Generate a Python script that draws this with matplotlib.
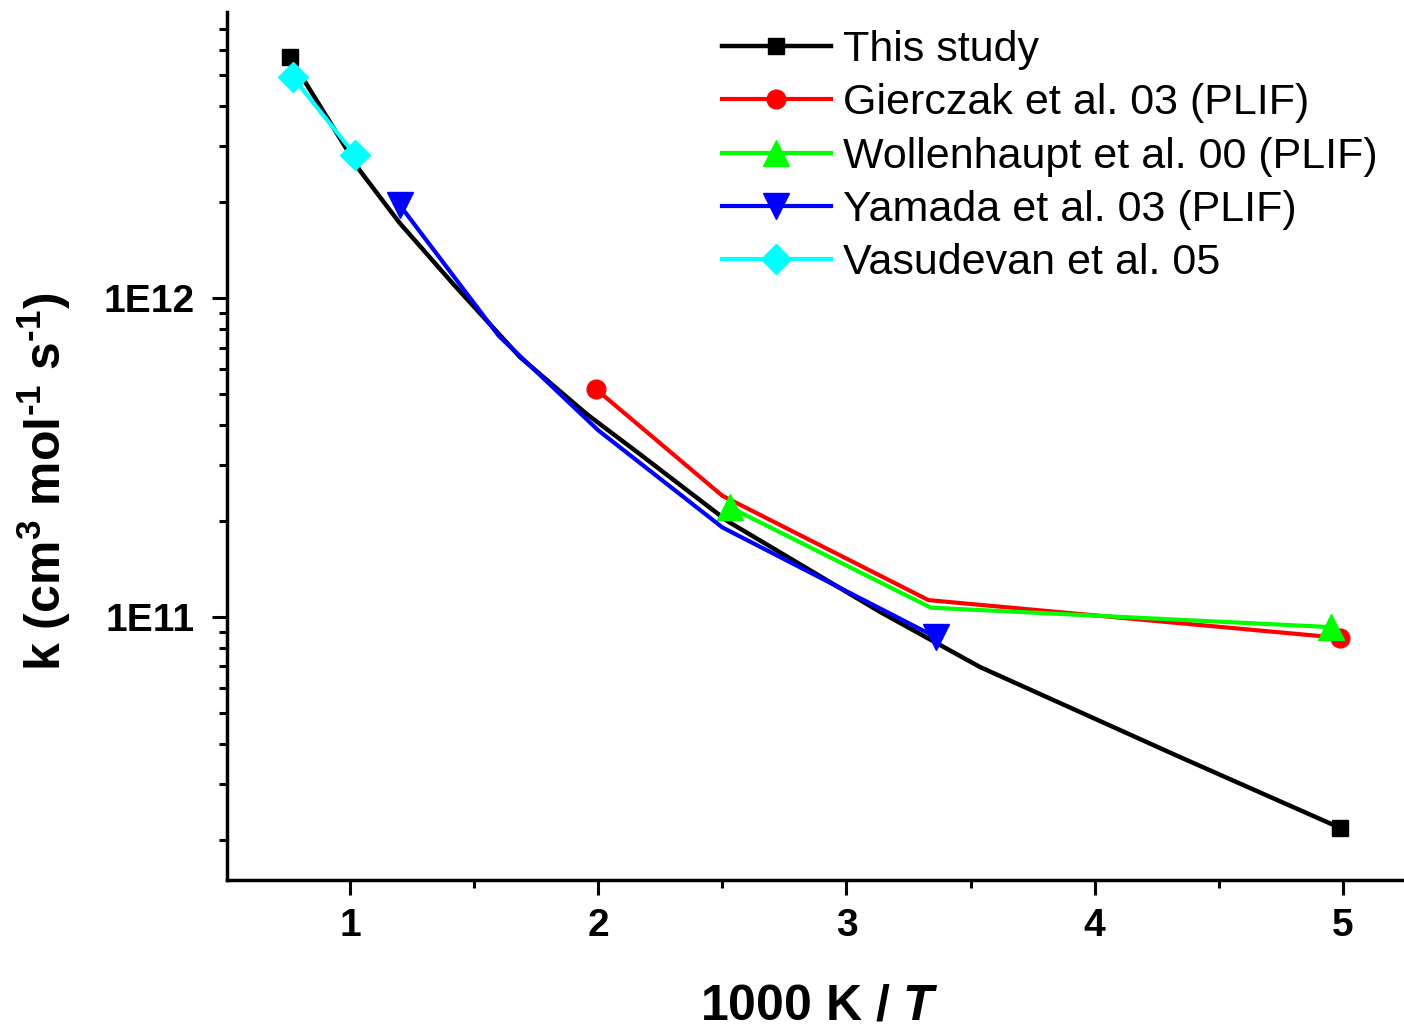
import numpy as np
import matplotlib
matplotlib.use('Agg')
import matplotlib.pyplot as plt
from matplotlib.ticker import LogLocator, FuncFormatter, MultipleLocator, NullFormatter

plt.rcParams['font.family'] = ['Liberation Sans', 'DejaVu Sans']
plt.rcParams['font.weight'] = 'bold'
plt.rcParams['mathtext.fontset'] = 'custom'
plt.rcParams['mathtext.rm'] = 'Liberation Sans:bold'
plt.rcParams['mathtext.it'] = 'Liberation Sans:italic:bold'
plt.rcParams['mathtext.bf'] = 'Liberation Sans:bold'

# This study (line with markers only at both ends)
x_this = [0.758, 1.04, 1.2, 1.415, 1.685, 1.955, 2.168, 2.52, 3.135, 3.538, 4.343, 4.99]
k_this = [5.69e12, 2.51e12, 1.72e12, 1.109e12, 6.53e11, 4.32e11, 3.24e11, 2.0e11,
          1.038e11, 6.97e10, 3.64e10, 2.18e10]

# Gierczak et al. 03 (PLIF)
x_gier = [1.99, 2.5, 3.33, 4.99]
k_gier = [5.19e11, 2.4e11, 1.13e11, 8.6e10]

# Wollenhaupt et al. 00 (PLIF)
x_woll = [2.53, 3.34, 4.95]
k_woll = [2.21e11, 1.07e11, 9.3e10]

# Yamada et al. 03 (PLIF)
x_yama = [1.2, 1.6, 2.0, 2.5, 3.36]
k_yama = [1.96e12, 7.6e11, 3.85e11, 1.91e11, 8.65e10]

# Vasudevan et al. 05
x_vasu = [0.77, 1.02]
k_vasu = [4.93e12, 2.81e12]

fig = plt.figure(figsize=(14.04, 10.27), dpi=100)
ax = fig.add_axes([227/1404, 1-880/1027, (1404-227)/1404, (880-12)/1027])

lw = 3.0
ax.plot(x_this, k_this, color='black', lw=3.2, marker='s', ms=12, markevery=[0, len(x_this)-1],
        label='This study')
ax.plot(x_gier, k_gier, color='#ff0000', lw=lw, marker='o', ms=13.5, markevery=[0, len(x_gier)-1],
        label='Gierczak et al. 03 (PLIF)')
ax.plot(x_woll, k_woll, color='#00ff00', lw=lw, marker='^', ms=19, markevery=[0, len(x_woll)-1],
        label='Wollenhaupt et al. 00 (PLIF)')
ax.plot(x_yama, k_yama, color='#0000ff', lw=lw, marker='v', ms=19, markevery=[0, len(x_yama)-1],
        label='Yamada et al. 03 (PLIF)')
ax.plot(x_vasu, k_vasu, color='#00ffff', lw=lw, marker='D', ms=15, label='Vasudevan et al. 05')

ax.set_yscale('log')
ax.set_xlim(0.5045, 5.2458)
ax.set_ylim(1.498e10, 7.89e12)

for s in ['top', 'right']:
    ax.spines[s].set_visible(False)
for s in ['left', 'bottom']:
    ax.spines[s].set_linewidth(2.5)

ax.xaxis.set_major_locator(MultipleLocator(1))
ax.xaxis.set_minor_locator(MultipleLocator(0.5))
ax.yaxis.set_major_locator(LogLocator(base=10))
ax.yaxis.set_minor_locator(LogLocator(base=10, subs=np.arange(2, 10)))
ax.yaxis.set_major_formatter(FuncFormatter(lambda v, p: '1E%d' % round(np.log10(v))))
ax.yaxis.set_minor_formatter(NullFormatter())

ax.tick_params(which='major', direction='out', length=11, width=2.2, labelsize=28, pad=9)
ax.tick_params(axis='y', which='major', pad=12.5)
ax.tick_params(which='minor', direction='out', length=6, width=2.2)

ax.set_xlabel(r'1000 K / $\mathit{T}$', fontsize=36, fontweight='bold')
ax.xaxis.set_label_coords(0.5038, -0.1187)
ax.set_ylabel(r'k (cm$^{\text{3}}$ mol$^{\text{-1}}$ s$^{\text{-1}}$)', fontsize=36, fontweight='bold')
ax.yaxis.set_label_coords(-0.1308, 0.4585)

ax.legend(loc='upper left', bbox_to_anchor=(722/1404, 1-30/1027), bbox_transform=fig.transFigure,
          frameon=False, prop={'size': 31, 'weight': 'normal'}, handlelength=2.52,
          handletextpad=0.3, labelspacing=0.31, borderpad=0, borderaxespad=0, numpoints=1)

fig.savefig('out.png', dpi=100)
